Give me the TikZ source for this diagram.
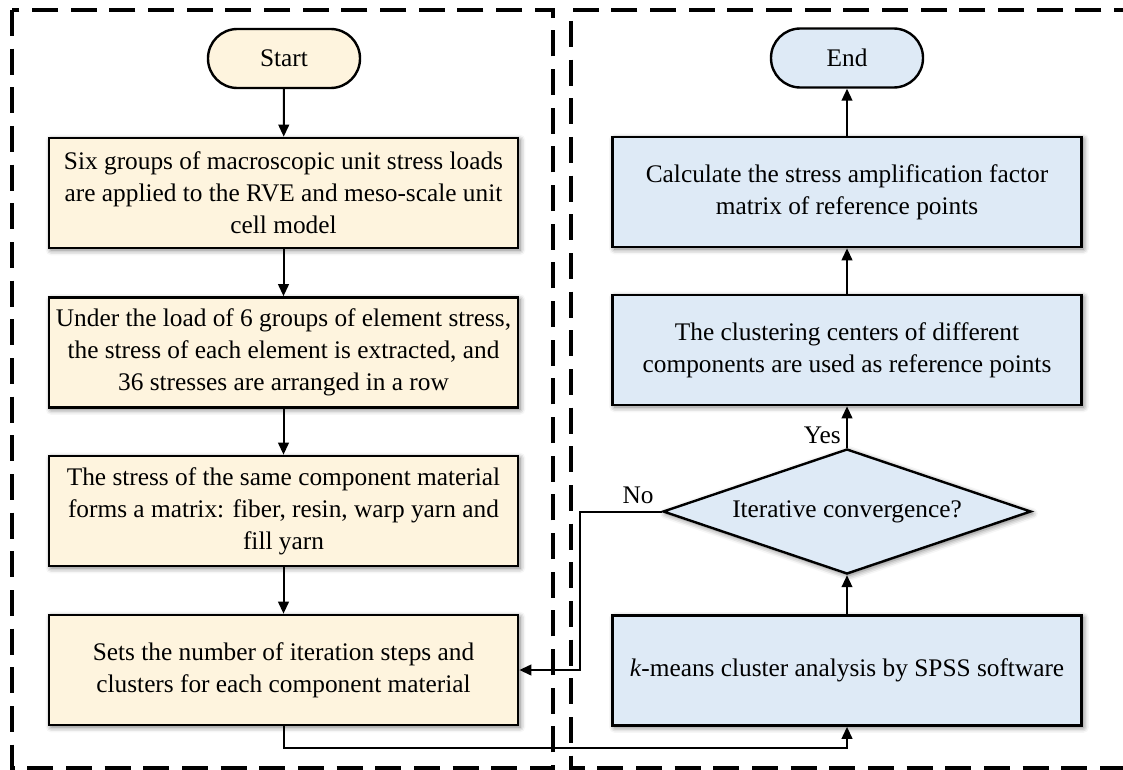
\documentclass[tikz,border=0pt]{standalone}
\usepackage{fontspec}
\setmainfont{Liberation Serif}
\usetikzlibrary{arrows.meta,shapes.geometric,shadows.blur}
\definecolor{cream}{HTML}{FEF4DE}
\definecolor{lblue}{HTML}{DEEAF6}
\begin{document}
\begin{tikzpicture}[x=0.75pt,y=-0.75pt,
  every node/.style={font=\fontsize{19}{24}\selectfont},
  shad/.style={blur shadow={shadow xshift=1.5pt,shadow yshift=-1.5pt,shadow blur radius=4pt,shadow opacity=55}},
  procbox/.style={draw=black, line width=2pt, minimum width=351.75pt, minimum height=82.5pt, align=center, inner sep=0pt, shad},
  termbox/.style={draw=black, line width=1.8pt, minimum width=114pt, minimum height=44.25pt, rounded corners=22pt, inner sep=0pt},
  decbox/.style={draw=black, line width=1.8pt, shape=diamond, minimum width=276pt, minimum height=93.75pt, aspect=2.9, inner sep=0pt, shad},
  arr/.style={draw=black, line width=1.5pt, -{Triangle[length=9pt,width=8pt]}},
  frame/.style={draw=black, line width=2.7pt, dash pattern=on 19.5pt off 9.5pt}
]
\useasboundingbox (0,0) rectangle (1123,770);

% frames
\draw[frame] (12,10) rectangle (553,768);
\draw[frame] (1140,10) -- (571,10) -- (571,768) -- (1140,768);

% left column
\node[termbox, fill=cream] (start) at (284,58.5) {Start};
\node[procbox, fill=cream] (b1) at (283.5,193) {Six groups of macroscopic unit stress loads\\are applied to the RVE and meso-scale unit\\cell model};
\node[procbox, fill=cream] (b2) at (283.5,352.5) {Under the load of 6 groups of element stress,\\the stress of each element is extracted, and\\36 stresses are arranged in a row};
\node[procbox, fill=cream] (b3) at (283.5,511) {The stress of the same component material\\forms a matrix: fiber, resin, warp yarn and\\fill yarn};
\node[procbox, fill=cream] (b4) at (283.5,670) {Sets the number of iteration steps and\\clusters for each component material};

% right column
\node[termbox, fill=lblue] (end) at (847,58) {End};
\node[procbox, fill=lblue] (r1) at (847,192) {Calculate the stress amplification factor\\matrix of reference points};
\node[procbox, fill=lblue] (r2) at (847,350) {The clustering centers of different\\components are used as reference points};
\node[decbox, fill=lblue] (dia) at (847,511.5) {Iterative convergence?};
\node[procbox, fill=lblue] (km) at (847,670.5) {\textit{k}-means cluster analysis by SPSS software};

\coordinate (nt) at (580,511.5);

% connectors
\draw[arr] (start) -- (b1);
\draw[arr] (b1) -- (b2);
\draw[arr] (b2) -- (b3);
\draw[arr] (b3) -- (b4);
\draw[arr] (b4.south) -- ++(0,22) -| (km.south);
\draw[arr] (km) -- (dia);
\draw[arr] (dia.north) -- node[left, inner sep=4pt, pos=0.3] {Yes} (r2.south);
\draw[arr] (r2) -- (r1);
\draw[arr] (r1) -- (end);
\draw[arr] (dia.west) -- node[above, pos=0.29, inner sep=5pt] {No} (nt) |- (b4.east);
\end{tikzpicture}
\end{document}
